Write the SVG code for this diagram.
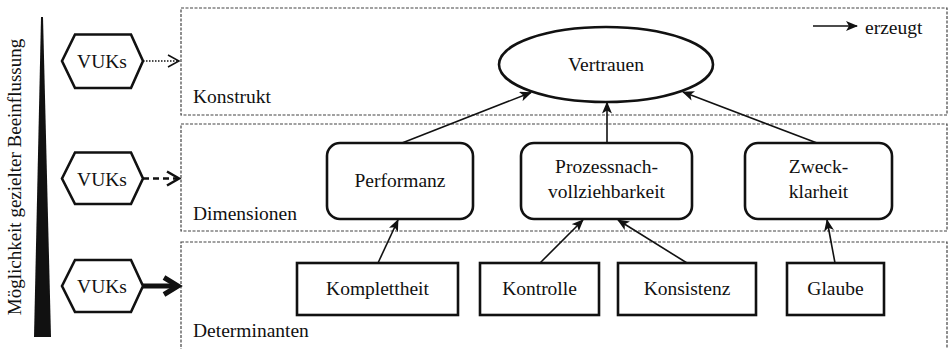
<svg xmlns="http://www.w3.org/2000/svg" width="948" height="349" viewBox="0 0 948 349">
<style>
text{font-family:"Liberation Serif","Times New Roman",serif;font-size:19.5px;fill:#111}
.c{text-anchor:middle}
.layer{fill:none;stroke:#444;stroke-width:1.2;stroke-dasharray:3,1.5}
.node{fill:#fff;stroke:#111;stroke-width:2.6}
.edge{fill:none;stroke:#111;stroke-width:1.6;marker-end:url(#ah)}
</style>
<defs>
<marker id="ah" viewBox="0 0 12 10" refX="11" refY="5" markerWidth="12" markerHeight="10" markerUnits="userSpaceOnUse" orient="auto">
<path d="M0,0 L12,5 L0,10 L3,5 z" fill="#111"/>
</marker>
</defs>
<g id="scale">
<polygon points="41,17 43,17 51,337 34,337" fill="#111"/>
<text class="c" transform="translate(21,177) rotate(-90)" style="font-size:19px">Möglichkeit gezielter Beeinflussung</text>
</g>
<g id="layer-konstrukt">
<rect class="layer" x="181" y="8" width="766" height="107"/>
<text x="193" y="103">Konstrukt</text>
</g>
<g id="layer-dimensionen">
<rect class="layer" x="181" y="124" width="766" height="107"/>
<text x="193" y="220">Dimensionen</text>
</g>
<g id="layer-determinanten">
<rect class="layer" x="181" y="242" width="766" height="110"/>
<text x="193" y="337">Determinanten</text>
</g>
<g id="legend">
<line x1="813" y1="26" x2="857" y2="26" stroke="#111" stroke-width="1.6" marker-end="url(#ah)"/>
<text x="865" y="34">erzeugt</text>
</g>
<g id="vuk1">
<polygon class="node" points="62,61 75,34.5 131,34.5 143,61 131,88 75,88"/>
<text class="c" x="102" y="68">VUKs</text>
</g>
<g id="vuk2">
<polygon class="node" points="62,178.5 75,152.5 131,152.5 143,178.5 131,204 75,204"/>
<text class="c" x="102" y="185.5">VUKs</text>
</g>
<g id="vuk3">
<polygon class="node" points="62,286 75,260 131,260 143,286 131,312 75,312"/>
<text class="c" x="102" y="293">VUKs</text>
</g>
<g id="vertrauen">
<ellipse class="node" cx="606" cy="64.5" rx="107" ry="37.5"/>
<text class="c" x="606" y="71">Vertrauen</text>
</g>
<g id="performanz">
<rect class="node" x="327" y="143" width="146" height="76" rx="13"/>
<text class="c" x="400" y="187">Performanz</text>
</g>
<g id="prozess">
<rect class="node" x="521" y="143" width="171" height="76" rx="13"/>
<text class="c" x="606.5" y="173">Prozessnach-</text>
<text class="c" x="606.5" y="198">vollziehbarkeit</text>
</g>
<g id="zweck">
<rect class="node" x="745" y="143" width="147" height="76" rx="13"/>
<text class="c" x="818.5" y="173">Zweck-</text>
<text class="c" x="818.5" y="198">klarheit</text>
</g>
<g id="komplettheit">
<rect class="node" x="297" y="263" width="161" height="52"/>
<text class="c" x="377.5" y="295">Komplettheit</text>
</g>
<g id="kontrolle">
<rect class="node" x="480" y="263" width="119" height="52"/>
<text class="c" x="539.5" y="295">Kontrolle</text>
</g>
<g id="konsistenz">
<rect class="node" x="618" y="263" width="138" height="52"/>
<text class="c" x="687" y="295">Konsistenz</text>
</g>
<g id="glaube">
<rect class="node" x="787" y="263" width="97" height="52"/>
<text class="c" x="835.5" y="295">Glaube</text>
</g>
<g id="connectors">
<line class="edge" x1="402" y1="143" x2="531" y2="92.5"/>
<line class="edge" x1="607" y1="143" x2="607" y2="102.5"/>
<line class="edge" x1="817" y1="143" x2="683" y2="92"/>
<line class="edge" x1="378" y1="263" x2="398" y2="220"/>
<line class="edge" x1="540" y1="263" x2="583" y2="220"/>
<line class="edge" x1="687" y1="263" x2="618" y2="220"/>
<line class="edge" x1="835" y1="263" x2="827" y2="220"/>
<line x1="143" y1="61" x2="179" y2="61" stroke="#111" stroke-width="1.5" stroke-dasharray="1.5,1.5"/>
<polyline points="168,55 179,61 168,67" fill="none" stroke="#111" stroke-width="1.5"/>
<line x1="143" y1="178.5" x2="177" y2="178.5" stroke="#111" stroke-width="2.6" stroke-dasharray="6,4"/>
<polyline points="167,171.5 179,178.5 167,185.5" fill="none" stroke="#111" stroke-width="2.6"/>
<line x1="143" y1="286" x2="176" y2="286" stroke="#111" stroke-width="5"/>
<polyline points="164,277.5 178,286 164,294.5" fill="none" stroke="#111" stroke-width="5" stroke-linejoin="miter"/>
</g>
</svg>
